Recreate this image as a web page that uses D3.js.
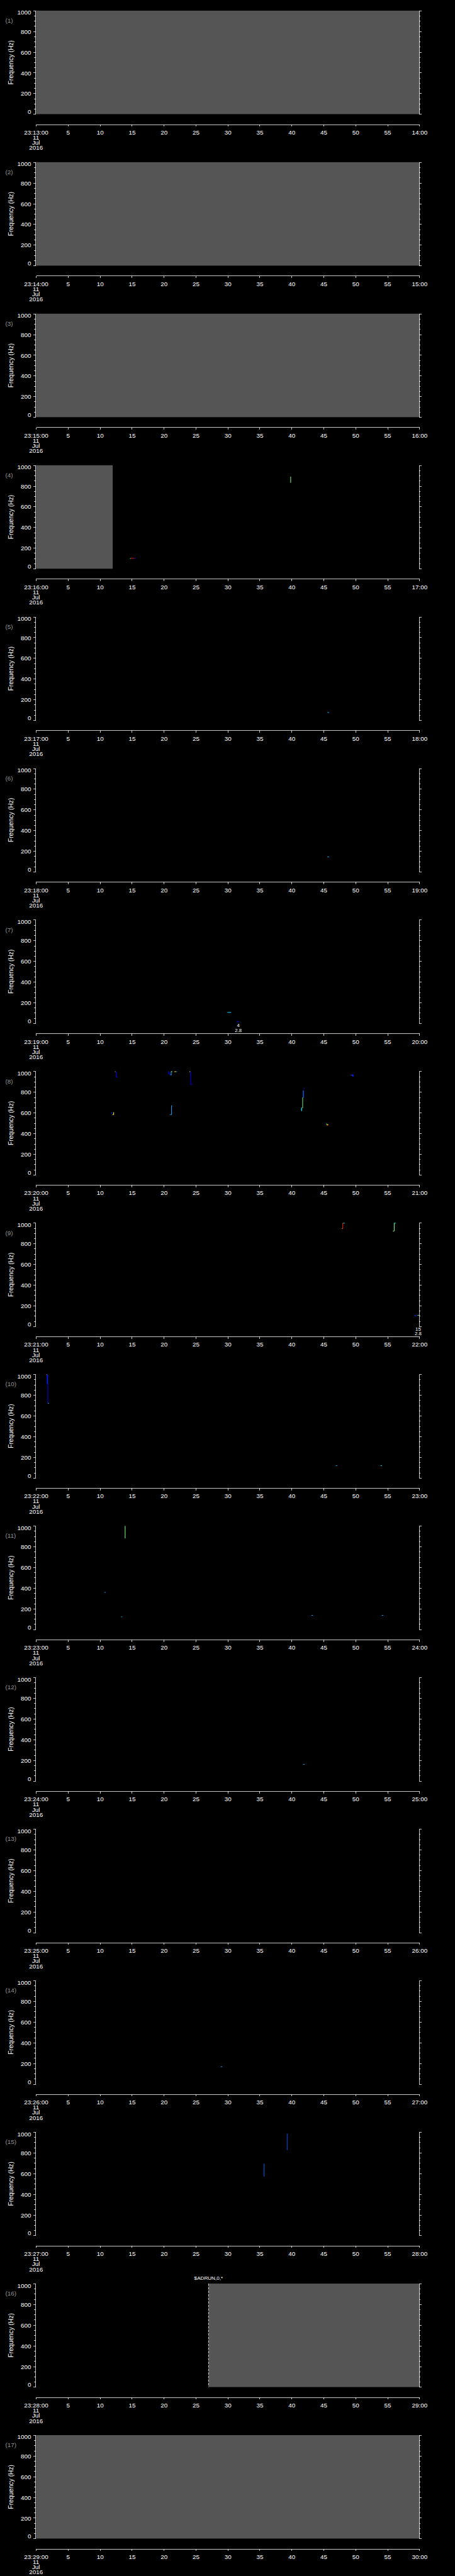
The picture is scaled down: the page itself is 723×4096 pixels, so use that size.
<!DOCTYPE html>
<html>
<head>
<meta charset="utf-8">
<script src="https://cdn.jsdelivr.net/npm/d3@7"></script>
<style>
  html, body { margin: 0; padding: 0; background: #000; }
  svg { display: block; }
</style>
</head>
<body>
<svg id="chart"></svg>
<script>
// reference is 1024 x 5802, drawn at 0.705 through the viewBox
const FULL_W = 1024;
const FULL_H = 5802;
const OUT_W = 723;
const OUT_H = 4096;

const panelCount = 17;
const panelStarts = d3.range(1, panelCount + 1).map(n => new Date(Date.UTC(2016, 6, 11, 23, 12 + n, 0)));
const freqMajor = [0, 200, 400, 600, 800, 1000];
const freqMinor = d3.range(0, 1001, 50).filter(f => f % 200 !== 0);
const tickSeconds = d3.range(0, 61, 5);
const dateLines = ['11', 'Jul', '2016'];

// spans with no data (grey), seconds into each panel
const gaps = [
  { panel: 1, t0: 0, t1: 60 },
  { panel: 2, t0: 0, t1: 60 },
  { panel: 3, t0: 0, t1: 60 },
  { panel: 4, t0: 0, t1: 12.0 },
  { panel: 16, t0: 27.0, t1: 60 },
  { panel: 17, t0: 0, t1: 60 }
];

// spectrogram pixels: panel, time span (s), frequency span (Hz), colour level 0..1
const marks = [
  { panel: 4, t0: 39.8, t1: 39.9, f0: 830, f1: 890, level: 0.5 },
  { panel: 4, t0: 14.7, t1: 14.85, f0: 96, f1: 101, level: 0.38 },
  { panel: 4, t0: 14.85, t1: 15.35, f0: 100, f1: 103, level: 0.85 },
  { panel: 4, t0: 15.35, t1: 15.6, f0: 100, f1: 103, level: 0.15 },

  { panel: 5, t0: 45.6, t1: 45.85, f0: 72, f1: 78, level: 0.3 },
  { panel: 6, t0: 45.6, t1: 45.85, f0: 141, f1: 147, level: 0.3 },

  { panel: 7, t0: 29.96, t1: 30.5, f0: 103, f1: 108, level: 0.38 },
  { panel: 7, t0: 30.5, t1: 30.6, f0: 104, f1: 107, level: 0.15 },
  { panel: 7, t0: 31.4, t1: 31.8, f0: 16, f1: 20, level: 0.12 },

  { panel: 8, t0: 12.3, t1: 12.45, f0: 996, f1: 1000, level: 0.72 },
  { panel: 8, t0: 12.5, t1: 12.6, f0: 948, f1: 1000, level: 0.12 },
  { panel: 8, t0: 12.5, t1: 12.75, f0: 946, f1: 949, level: 0.12 },
  { panel: 8, t0: 11.7, t1: 12.0, f0: 594, f1: 600, level: 0.15 },
  { panel: 8, t0: 12.1, t1: 12.2, f0: 581, f1: 605, level: 0.62 },
  { panel: 8, t0: 11.95, t1: 12.15, f0: 581, f1: 585, level: 0.62 },
  { panel: 8, t0: 20.7, t1: 20.85, f0: 975, f1: 1000, level: 0.12 },
  { panel: 8, t0: 20.85, t1: 21.0, f0: 970, f1: 978, level: 0.12 },
  { panel: 8, t0: 21.0, t1: 21.2, f0: 963, f1: 970, level: 0.22 },
  { panel: 8, t0: 21.1, t1: 21.2, f0: 963, f1: 1000, level: 0.3 },
  { panel: 8, t0: 21.15, t1: 21.35, f0: 996, f1: 1000, level: 0.5 },
  { panel: 8, t0: 21.6, t1: 21.7, f0: 995, f1: 1000, level: 0.72 },
  { panel: 8, t0: 21.7, t1: 21.95, f0: 996, f1: 1000, level: 0.62 },
  { panel: 8, t0: 21.95, t1: 22.1, f0: 996, f1: 1000, level: 0.22 },
  { panel: 8, t0: 24.0, t1: 24.15, f0: 995, f1: 1000, level: 0.62 },
  { panel: 8, t0: 24.15, t1: 24.25, f0: 875, f1: 1000, level: 0.1 },
  { panel: 8, t0: 24.15, t1: 24.45, f0: 872, f1: 877, level: 0.12 },
  { panel: 8, t0: 21.15, t1: 21.25, f0: 579, f1: 670, level: 0.28 },
  { panel: 8, t0: 20.95, t1: 21.15, f0: 580, f1: 585, level: 0.28 },
  { panel: 8, t0: 21.2, t1: 21.3, f0: 666, f1: 670, level: 0.28 },
  { panel: 8, t0: 49.28, t1: 49.5, f0: 962, f1: 966, level: 0.22 },
  { panel: 8, t0: 49.5, t1: 49.7, f0: 950, f1: 970, level: 0.15 },
  { panel: 8, t0: 41.86, t1: 42.09, f0: 830, f1: 836, level: 0.1 },
  { panel: 8, t0: 41.77, t1: 41.91, f0: 744, f1: 815, level: 0.22 },
  { panel: 8, t0: 41.68, t1: 41.77, f0: 644, f1: 748, level: 0.5 },
  { panel: 8, t0: 41.51, t1: 41.63, f0: 616, f1: 650, level: 0.35 },
  { panel: 8, t0: 45.38, t1: 45.55, f0: 491, f1: 494, level: 0.38 },
  { panel: 8, t0: 45.5, t1: 45.73, f0: 478, f1: 490, level: 0.72 },

  { panel: 9, t0: 47.95, t1: 48.05, f0: 945, f1: 1000, level: 0.85 },
  { panel: 9, t0: 48.05, t1: 48.3, f0: 996, f1: 1000, level: 0.38 },
  { panel: 9, t0: 47.85, t1: 47.98, f0: 943, f1: 948, level: 0.72 },
  { panel: 9, t0: 56.0, t1: 56.1, f0: 920, f1: 1000, level: 0.5 },
  { panel: 9, t0: 56.05, t1: 56.3, f0: 996, f1: 1000, level: 0.38 },
  { panel: 9, t0: 55.85, t1: 56.0, f0: 918, f1: 924, level: 0.5 },
  { panel: 9, t0: 59.2, t1: 59.5, f0: 104, f1: 106, level: 0.22 },
  { panel: 9, t0: 59.5, t1: 59.7, f0: 106, f1: 110, level: 0.12 },
  { panel: 9, t0: 59.7, t1: 59.95, f0: 108, f1: 110, level: 0.5 },
  { panel: 9, t0: 59.95, t1: 60, f0: 108, f1: 110, level: 0.15 },

  { panel: 10, t0: 1.6, t1: 1.74, f0: 995, f1: 1000, level: 0.72 },
  { panel: 10, t0: 1.71, t1: 1.88, f0: 905, f1: 1000, level: 0.15 },
  { panel: 10, t0: 1.8, t1: 1.88, f0: 722, f1: 905, level: 0.12 },
  { panel: 10, t0: 1.85, t1: 2.0, f0: 719, f1: 724, level: 0.38 },
  { panel: 10, t0: 46.9, t1: 47.15, f0: 116, f1: 120, level: 0.3 },
  { panel: 10, t0: 53.9, t1: 54.15, f0: 116, f1: 120, level: 0.35 },

  { panel: 11, t0: 13.9, t1: 14.0, f0: 880, f1: 1000, level: 0.5 },
  { panel: 11, t0: 10.7, t1: 10.9, f0: 357, f1: 361, level: 0.3 },
  { panel: 11, t0: 13.3, t1: 13.5, f0: 120, f1: 124, level: 0.3 },
  { panel: 11, t0: 43.1, t1: 43.35, f0: 135, f1: 139, level: 0.3 },
  { panel: 11, t0: 54.1, t1: 54.35, f0: 135, f1: 139, level: 0.3 },

  { panel: 12, t0: 41.8, t1: 42.05, f0: 158, f1: 162, level: 0.3 },
  { panel: 14, t0: 28.9, t1: 29.15, f0: 166, f1: 170, level: 0.3 },

  { panel: 15, t0: 35.65, t1: 35.75, f0: 570, f1: 695, level: 0.22 },
  { panel: 15, t0: 39.25, t1: 39.35, f0: 825, f1: 985, level: 0.2 }
];

// white text written into the panels
const notes = [
  { panel: 7, t: 31.66, dy: 241.8, text: '4' },
  { panel: 7, t: 31.66, dy: 252.3, text: '2.8' },
  { panel: 9, t: 59.8, dy: 242.4, text: '15' },
  { panel: 9, t: 59.8, dy: 252.4, text: '2.8' },
  { panel: 16, t: 27.0, dy: -8, text: '$ADRUN,0,*' }
];
const markerLines = [{ panel: 16, t: 27.0 }];

const jet = d3.scaleLinear()
  .domain([0, 0.125, 0.375, 0.625, 0.875, 1])
  .range(['#00008f', '#0000ff', '#00ffff', '#ffff00', '#ff0000', '#800000'])
  .clamp(true);

const pitch = FULL_H / panelCount;
const plotLeft = 81;
const plotRight = 944;
const plotTop = 24;
const plotH = 233;
const axisGap = 256;
const FONT = '"Liberation Sans", Arial, sans-serif';

const svg = d3.select('#chart')
  .attr('width', OUT_W)
  .attr('height', OUT_H)
  .attr('viewBox', `0 0 ${FULL_W} ${FULL_H}`)
  .style('background', '#000');

svg.append('rect').attr('width', FULL_W).attr('height', FULL_H).attr('fill', '#000');

const y = d3.scaleLinear().domain([0, 1000]).range([plotH, 0]);
const fmtMin = d3.utcFormat('%M:%S');
const fmtFirst = d3.utcFormat('%H:%M:%S');

function styleAxis(g) {
  g.selectAll('path, line').attr('stroke', '#fff').attr('stroke-width', 1.1).attr('shape-rendering', 'crispEdges');
  g.selectAll('text').attr('fill', '#fff').attr('font-family', FONT).attr('font-size', 14);
}

panelStarts.forEach((start, i) => {
  const panel = i + 1;
  const end = d3.utcMinute.offset(start, 1);
  const x = d3.scaleUtc().domain([start, end]).range([plotLeft, plotRight]);
  const xs = t => x(new Date(start.getTime() + t * 1000));
  const top = plotTop + i * pitch;
  const g = svg.append('g').attr('transform', `translate(0,${top})`);

  // no-data areas
  g.selectAll('rect.gap')
    .data(gaps.filter(d => d.panel === panel))
    .join('rect')
    .attr('class', 'gap')
    .attr('x', d => xs(d.t0))
    .attr('y', 0)
    .attr('width', d => xs(d.t1) - xs(d.t0))
    .attr('height', plotH)
    .attr('fill', '#555555');

  // spectrogram pixels
  g.selectAll('rect.mark')
    .data(marks.filter(d => d.panel === panel))
    .join('rect')
    .attr('class', 'mark')
    .attr('x', d => xs(d.t0))
    .attr('y', d => y(d.f1))
    .attr('width', d => Math.max(1.3, xs(d.t1) - xs(d.t0)))
    .attr('height', d => Math.max(1.3, y(d.f0) - y(d.f1)))
    .attr('fill', d => jet(d.level));

  g.selectAll('line.marker')
    .data(markerLines.filter(d => d.panel === panel))
    .join('line')
    .attr('class', 'marker')
    .attr('x1', d => xs(d.t)).attr('x2', d => xs(d.t))
    .attr('y1', 0).attr('y2', plotH)
    .attr('stroke', '#fff')
    .attr('stroke-width', 1.1)
    .attr('stroke-dasharray', '5,3');

  // left frequency axis
  const left = g.append('g').attr('transform', `translate(${plotLeft - 1},0)`)
    .call(d3.axisLeft(y).tickValues(freqMajor).tickSize(5).tickSizeOuter(0).tickPadding(5).tickFormat(d3.format('d')));
  left.selectAll('.tick text')
    .attr('dy', d => d === 1000 ? '0.62em' : d === 0 ? '-0.05em' : '0.36em');
  left.append('g')
    .call(d3.axisLeft(y).tickValues(freqMinor).tickSize(3).tickSizeOuter(0).tickFormat(''))
    .select('.domain').remove();
  styleAxis(left);

  // right frequency axis
  const right = g.append('g').attr('transform', `translate(${plotRight},0)`)
    .call(d3.axisRight(y).tickValues(freqMajor).tickSize(4.5).tickSizeOuter(0).tickFormat(''));
  right.append('g')
    .call(d3.axisRight(y).tickValues(freqMinor).tickSize(2.5).tickSizeOuter(0).tickFormat(''))
    .select('.domain').remove();
  styleAxis(right);

  // time axis
  const tickDates = tickSeconds.map(s => new Date(start.getTime() + s * 1000));
  const bottom = g.append('g').attr('transform', `translate(0,${axisGap})`)
    .call(d3.axisBottom(x).tickValues(tickDates).tickSize(5).tickSizeOuter(0).tickPadding(8)
      .tickFormat((d, k) => k === 0 ? fmtFirst(d) : k === tickDates.length - 1 ? fmtMin(d) : String(k * 5)));
  styleAxis(bottom);
  dateLines.forEach((line, k) => {
    bottom.append('text')
      .attr('x', plotLeft)
      .attr('y', 34.5 + k * 11.6)
      .attr('text-anchor', 'middle')
      .attr('fill', '#fff')
      .attr('font-family', FONT)
      .attr('font-size', 14)
      .text(line);
  });

  // panel number and y title
  g.append('text')
    .attr('x', 12).attr('y', 27)
    .attr('fill', '#969696')
    .attr('font-family', FONT)
    .attr('font-size', 14)
    .text(`(${panel})`);

  g.append('text')
    .attr('transform', `translate(29,${plotH / 2}) rotate(-90)`)
    .attr('text-anchor', 'middle')
    .attr('fill', '#fff')
    .attr('font-family', FONT)
    .attr('font-size', 14.5)
    .text('Frequency (Hz)');

  g.selectAll('text.note')
    .data(notes.filter(d => d.panel === panel))
    .join('text')
    .attr('class', 'note')
    .attr('x', d => xs(d.t))
    .attr('y', d => d.dy)
    .attr('text-anchor', 'middle')
    .attr('fill', '#fff')
    .attr('font-family', FONT)
    .attr('font-size', d => d.text.length > 4 ? 11.5 : 11)
    .text(d => d.text);
});
</script>
</body>
</html>
